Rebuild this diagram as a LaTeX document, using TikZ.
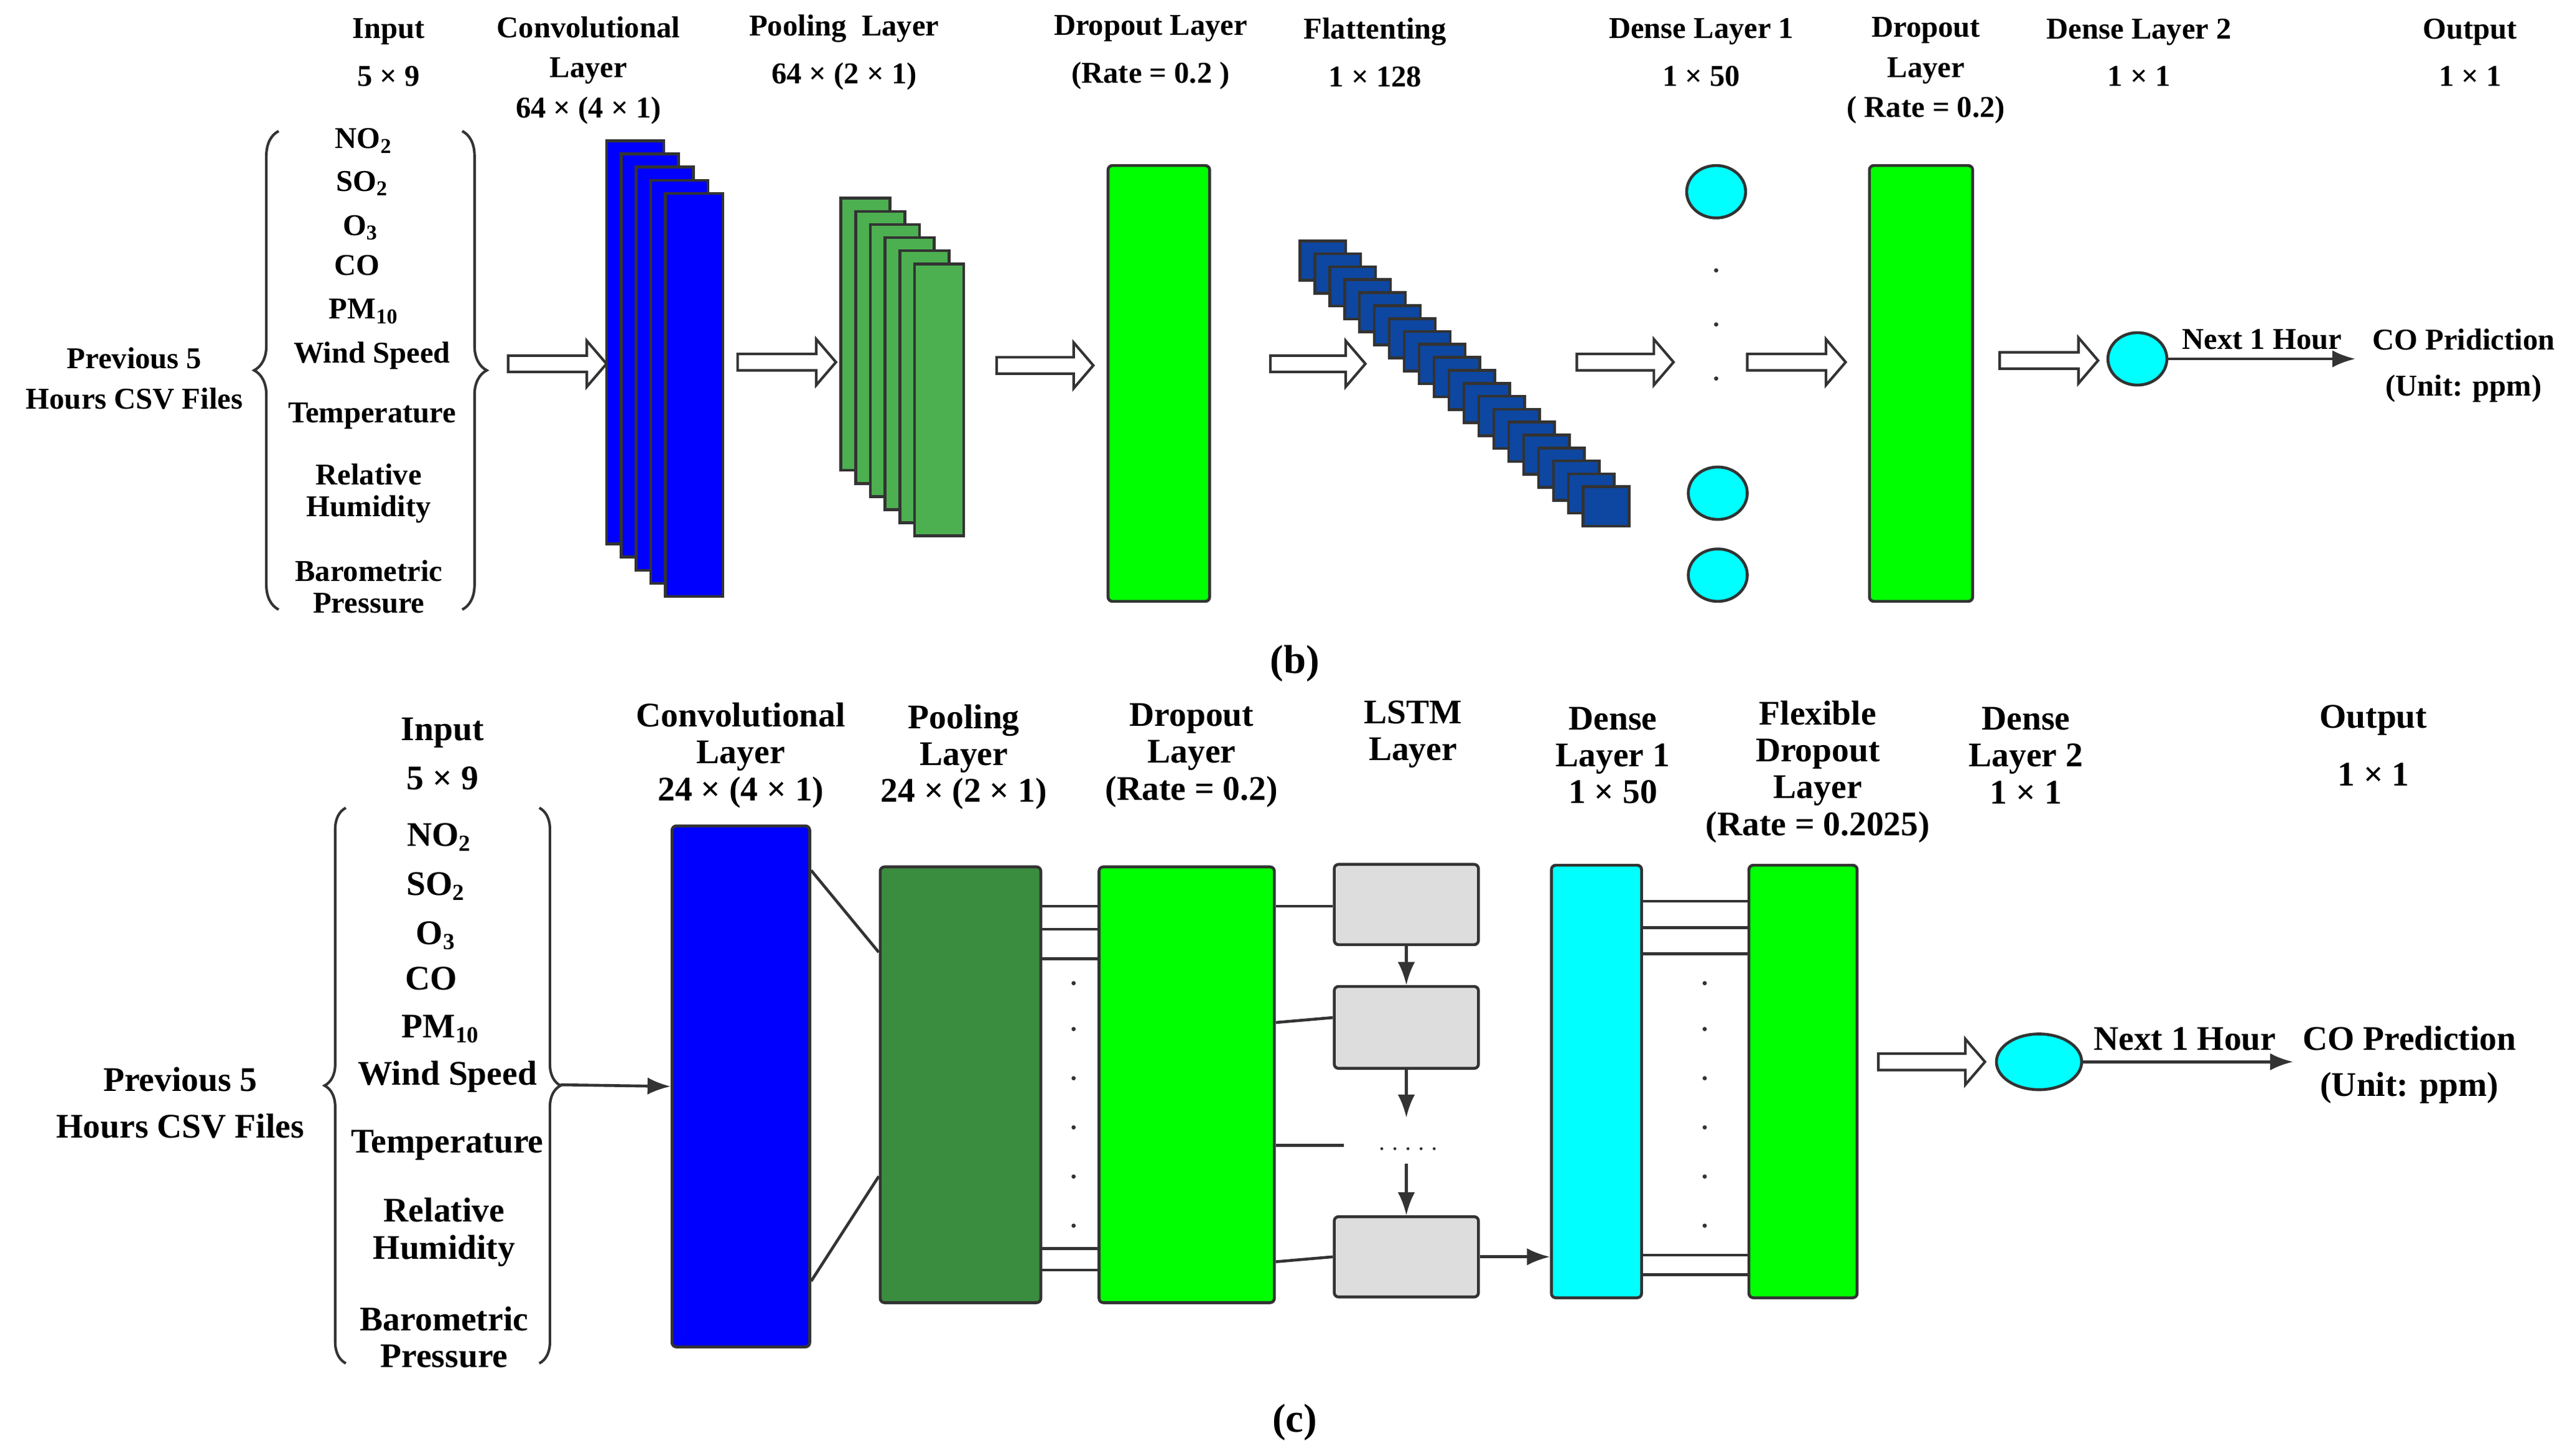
\documentclass[tikz,border=0pt]{standalone}
\usepackage{fontspec}
\setmainfont{Liberation Serif}[BoldFont={Liberation Serif Bold}]
\usetikzlibrary{arrows.meta,decorations.pathreplacing,shapes.geometric}
\definecolor{cblue}{HTML}{0000FF}
\definecolor{pgreen}{HTML}{4CAF50}
\definecolor{dgreen}{HTML}{3A8C3E}
\definecolor{lgreen}{HTML}{00FF00}
\definecolor{fblue}{HTML}{0D47A1}
\definecolor{cyanc}{HTML}{00FFFF}
\definecolor{lgray}{HTML}{DDDDDD}
\definecolor{edge}{HTML}{333333}
\newcommand{\hollowarr}[3]{\draw[edge,line width=0.9pt,fill=white] (#1,#3-5) -- (#2-12,#3-5) -- (#2-12,#3-14) -- (#2,#3) -- (#2-12,#3+14) -- (#2-12,#3+5) -- (#1,#3+5) -- cycle;}
\begin{document}
\begin{tikzpicture}[x=0.02cm,y=-0.02cm,
  ttop/.style={font=\fontsize{10.5}{14}\selectfont\bfseries,align=center,inner sep=0pt},
  ttwo/.style={font=\fontsize{10.5}{16.5}\selectfont\bfseries,align=center,inner sep=0pt},
  tbot/.style={font=\fontsize{12}{12.8}\selectfont\bfseries,align=center,inner sep=0pt},
  blk/.style={draw=edge,line width=1pt,rounded corners=1.5pt},
  thin/.style={draw=edge,line width=1pt},
  brc/.style={draw=edge,line width=0.9pt,decorate},
  arr/.style={draw=edge,line width=1pt,-{Latex[length=8pt,width=6pt]}}]
\useasboundingbox (0,0) rectangle (1560,888.5);
% ===================== (b) =====================
\node[ttwo] (tin) at (237,32) {Input\\5 × 9};
\node[ttop] (tconv) at (359,43) {Convolutional\\Layer\\64 × (4 × 1)};
\node[ttwo] (tpool) at (515,32) {Pooling~ Layer\\64 × (2 × 1)};
\node[ttwo] (tdrop) at (702,32) {Dropout Layer\\(Rate = 0.2 )};
\node[ttwo] (tflat) at (839,32) {Flattenting\\1 × 128};
\node[ttwo] (tden1) at (1038,32) {Dense Layer 1\\1 × 50};
\node[ttop] (tdrop2) at (1175,43) {Dropout\\Layer\\( Rate = 0.2)};
\node[ttwo] (tden2) at (1305,32) {Dense Layer 2\\1 × 1};
\node[ttwo] (tout) at (1507,32) {Output\\1 × 1};
\node[ttop] (prevb) at (82,231) {Previous 5\\Hours CSV Files};
\draw[brc,decoration={brace,amplitude=0.3cm}] (170,372) -- (170,80);
\draw[brc,decoration={brace,amplitude=0.3cm}] (282,80) -- (282,372);
\node[ttop] (v1) at (222,86) {NO\textsubscript{2}};
\node[ttop] (v2) at (221,112) {SO\textsubscript{2}};
\node[ttop] (v3) at (220,139) {O\textsubscript{3}};
\node[ttop] (v4) at (218,162) {CO};
\node[ttop] (v5) at (222,190) {PM\textsubscript{10}};
\node[ttop] (v6) at (227,217) {Wind Speed};
\node[ttop] (v7) at (227,254) {Temperature};
\node[ttop,font=\fontsize{10.5}{11}\selectfont\bfseries] (v8) at (225,301) {Relative\\Humidity};
\node[ttop,font=\fontsize{10.5}{11}\selectfont\bfseries] (v9) at (225,358) {Barometric\\Pressure};
\foreach \i in {0,...,4} \draw[thin,fill=cblue] ({370+9*\i},{86+8*\i}) rectangle +(35,246);
\foreach \i in {0,...,5} \draw[thin,fill=pgreen] ({513+9*\i},{121+8*\i}) rectangle +(30,166);
\node[blk,fill=lgreen,minimum width=1.24cm,minimum height=5.32cm,inner sep=0pt] (drop1) at (707,234) {};
\foreach \i in {0,...,19} \draw[thin,fill=fblue] ({793+9.1*\i},{147+7.9*\i}) rectangle +(28,24);
\node[thin,ellipse,fill=cyanc,minimum width=0.72cm,minimum height=0.64cm,inner sep=0pt] (e1) at (1047,117) {};
\node[thin,ellipse,fill=cyanc,minimum width=0.72cm,minimum height=0.64cm,inner sep=0pt] (e2) at (1048,301) {};
\node[thin,ellipse,fill=cyanc,minimum width=0.72cm,minimum height=0.64cm,inner sep=0pt] (e3) at (1048,351) {};
\foreach \yy in {165,198,231} \fill[edge] (1047,\yy) circle (1.3);
\node[blk,fill=lgreen,minimum width=1.26cm,minimum height=5.32cm,inner sep=0pt] (drop2) at (1172,234) {};
\node[thin,ellipse,fill=cyanc,minimum width=0.72cm,minimum height=0.64cm,inner sep=0pt] (ob) at (1304,219) {};
\coordinate (obend) at (1437,219);
\draw[arr] (ob) -- (obend);
\node[ttop,anchor=base] at (1380,213) {Next 1 Hour};
\node[ttop,font=\fontsize{10.5}{16}\selectfont\bfseries] (predb) at (1503,223) {CO Pridiction\\(Unit: ppm)};
\hollowarr{310}{370}{222}
\hollowarr{450}{510}{221}
\hollowarr{608}{667}{223}
\hollowarr{775}{833}{222}
\hollowarr{962}{1021}{221}
\hollowarr{1066}{1126}{221}
\hollowarr{1220}{1280}{220}
\node[font=\fontsize{14}{16}\selectfont\bfseries] (capb) at (790,405) {(b)};
% ===================== (c) =====================
\node[tbot,font=\fontsize{12}{17}\selectfont\bfseries] (cin) at (270,460) {Input\\5 × 9};
\node[tbot] (cconv) at (452,461) {Convolutional\\Layer\\24 × (4 × 1)};
\node[tbot] (cpool) at (588,462) {Pooling\\Layer\\24 × (2 × 1)};
\node[tbot] (cdrop) at (727,461) {Dropout\\Layer\\(Rate = 0.2)};
\node[tbot] (clstm) at (862,448) {LSTM\\Layer};
\node[tbot] (cden1) at (984,461) {Dense\\Layer 1\\1 × 50};
\node[tbot] (cflex) at (1109,471) {Flexible\\Dropout\\Layer\\(Rate = 0.2025)};
\node[tbot] (cden2) at (1236,461) {Dense\\Layer 2\\1 × 1};
\node[tbot,font=\fontsize{12}{20}\selectfont\bfseries] (cout) at (1448,455) {Output\\1 × 1};
\node[tbot,font=\fontsize{12}{16}\selectfont\bfseries] (prevc) at (110,673) {Previous 5\\Hours CSV Files};
\draw[brc,decoration={brace,amplitude=0.26cm}] (211,832) -- (211,493);
\draw[brc,decoration={brace,amplitude=0.26cm}] (329,493) -- (329,832);
\coordinate (bracetip) at (342,662);
\node[tbot] (w1) at (268,511) {NO\textsubscript{2}};
\node[tbot] (w2) at (266,541) {SO\textsubscript{2}};
\node[tbot] (w3) at (266,571) {O\textsubscript{3}};
\node[tbot] (w4) at (263,597) {CO};
\node[tbot] (w5) at (269,628) {PM\textsubscript{10}};
\node[tbot] (w6) at (273,657) {Wind Speed};
\node[tbot] (w7) at (273,699) {Temperature};
\node[tbot] (w8) at (271,752) {Relative\\Humidity};
\node[tbot] (w9) at (271,816) {Barometric\\Pressure};
\node[blk,fill=cblue,minimum width=1.68cm,minimum height=6.36cm,inner sep=0pt] (conv) at (452,663) {};
\draw[arr] (bracetip) -- (conv.west);
\node[blk,fill=dgreen,minimum width=1.96cm,minimum height=5.32cm,inner sep=0pt] (pool) at (586,662) {};
\node[blk,fill=lgreen,minimum width=2.14cm,minimum height=5.32cm,inner sep=0pt] (cdropb) at (724,662) {};
\draw[thin] ([yshift=-0.56cm]conv.north east) -- ([yshift=-1.06cm]pool.north west);
\draw[thin] ([yshift=0.82cm]conv.south east) -- ([yshift=1.56cm]pool.south west);
\foreach \yy in {553,567,585,762,775} \draw[thin] (pool.east |- 0,\yy) -- (cdropb.west |- 0,\yy);
\foreach \yy in {600,628,658,688,718,748} \fill[edge] (655,\yy) circle (1.3);
\node[blk,fill=lgray,minimum width=1.76cm,minimum height=0.98cm,inner sep=0pt] (l1) at (858,552) {};
\node[blk,fill=lgray,minimum width=1.76cm,minimum height=1.0cm,inner sep=0pt] (l2) at (858,627) {};
\node[blk,fill=lgray,minimum width=1.76cm,minimum height=0.98cm,inner sep=0pt] (l3) at (858,767) {};
\draw[thin] (cdropb.east |- 0,553) -- (l1.west |- 0,553);
\draw[thin] (cdropb.east |- 0,624) -- (l2.west |- 0,621);
\coordinate (ldots) at (820,699);
\draw[thin] (cdropb.east |- 0,699) -- (ldots);
\foreach \xx in {843,851,859,867,875} \fill[edge] (\xx,701) circle (0.9);
\draw[thin] (cdropb.east |- 0,770) -- (l3.west |- 0,767);
\coordinate (a2e) at (858,682);
\coordinate (a3s) at (858,710);
\draw[arr] (l1) -- (l2);
\draw[arr] (l2) -- (a2e);
\draw[arr] (a3s) -- (l3);
\node[blk,fill=cyanc,minimum width=1.1cm,minimum height=5.28cm,inner sep=0pt] (cden) at (974,660) {};
\draw[arr] (l3.east) -- (cden.west |- l3.east);
\node[blk,fill=lgreen,minimum width=1.32cm,minimum height=5.28cm,inner sep=0pt] (cflexb) at (1100,660) {};
\foreach \yy in {550,566,582,766,778} \draw[thin] (cden.east |- 0,\yy) -- (cflexb.west |- 0,\yy);
\foreach \yy in {600,628,658,688,718,748} \fill[edge] (1040,\yy) circle (1.3);
\hollowarr{1146}{1211}{648}
\node[thin,ellipse,fill=cyanc,minimum width=1.04cm,minimum height=0.68cm,inner sep=0pt] (oc) at (1244,648) {};
\coordinate (ocend) at (1399,648);
\draw[arr] (oc) -- (ocend);
\node[tbot,anchor=base] at (1333,641) {Next 1 Hour};
\node[tbot,font=\fontsize{12}{16}\selectfont\bfseries] (predc) at (1470,650) {CO Prediction\\(Unit: ppm)};
\node[font=\fontsize{14}{16}\selectfont\bfseries] (capc) at (790,868) {(c)};
\end{tikzpicture}
\end{document}
